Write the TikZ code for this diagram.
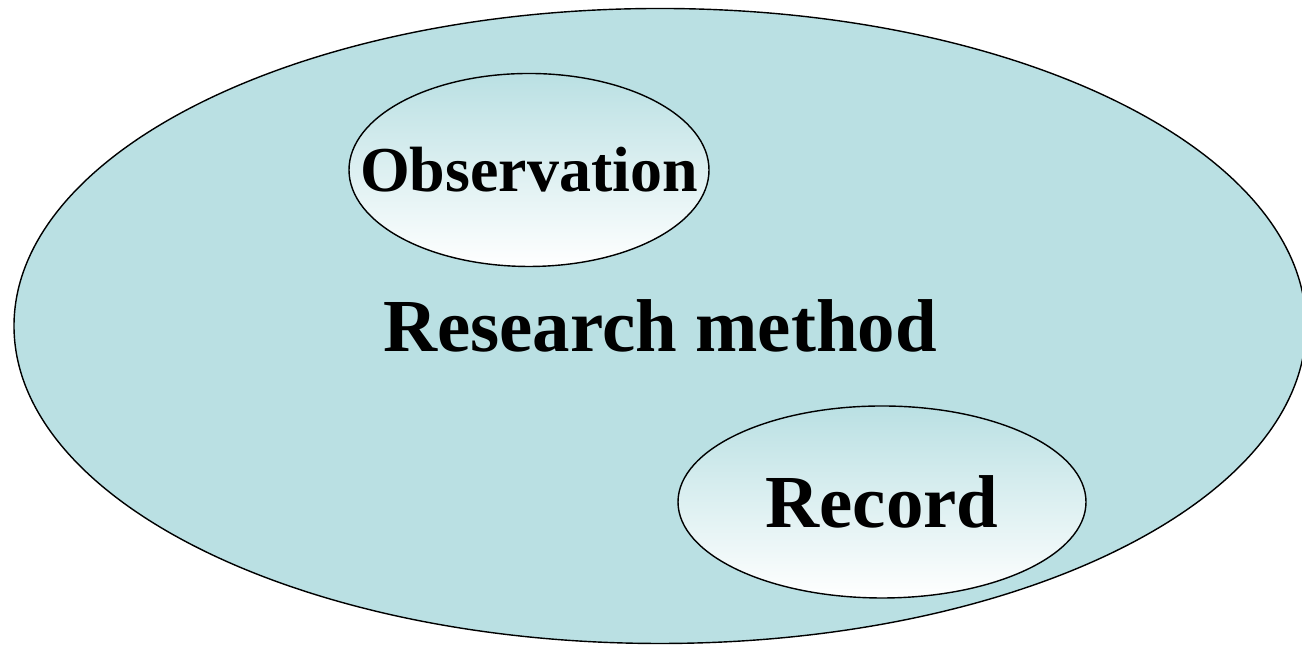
\documentclass[tikz,border=0pt]{standalone}
\usepackage{fontspec}
\setmainfont{Liberation Serif}
\usetikzlibrary{shapes.geometric}
\definecolor{methodcyan}{HTML}{BAE0E3}

\begin{document}
\begin{tikzpicture}[
    outer/.style={ellipse, draw=black, fill=methodcyan, inner sep=0pt,
        minimum width=12.92cm, minimum height=6.35cm,
        font=\bfseries\fontsize{21.3}{25}\selectfont},
    inner/.style={ellipse, draw=black, top color=methodcyan,
        bottom color=white, inner sep=0pt},
    tag/.style={inner sep=0pt, font=\bfseries}
]
    \useasboundingbox (0,0) rectangle (13.02,6.45);
    \node[outer] (method) at (6.6,3.19) {Research method};
    \node[inner, minimum width=3.6cm, minimum height=1.93cm] (obs) at (5.29,4.75) {};
    \node[tag, font=\bfseries\fontsize{18.2}{22}\selectfont] (obstext) at (obs.center) {Observation};
    \node[inner, minimum width=4.08cm, minimum height=1.92cm] (rec) at (8.82,1.43) {};
    \node[tag, font=\bfseries\fontsize{21.3}{25}\selectfont] (rectext) at (rec.center) {Record};
\end{tikzpicture}
\end{document}
